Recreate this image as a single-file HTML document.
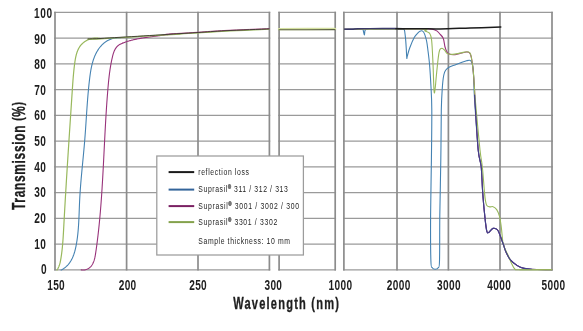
<!DOCTYPE html>
<html><head><meta charset="utf-8"><style>
html,body{margin:0;padding:0;background:#fff;width:583px;height:331px;overflow:hidden}
svg{display:block;will-change:transform}
text{font-family:"Liberation Sans",sans-serif;fill:#1e1e1e} .hv{stroke:#1e1e1e;stroke-width:0.35}
</style></head><body>
<svg width="583" height="331" viewBox="0 0 583 331">
<defs><clipPath id="c1"><rect x="55" y="0" width="214.5" height="331"/></clipPath><clipPath id="c3"><rect x="344" y="0" width="208.5" height="331"/></clipPath></defs>
<g stroke="#9a9a9a" stroke-width="1.3"><line x1="54.15" y1="269.85" x2="270.25" y2="269.85"/><line x1="278.25" y1="269.85" x2="336.05" y2="269.85"/><line x1="343.04999999999995" y1="269.85" x2="552.85" y2="269.85"/><line x1="54.15" y1="244.10" x2="270.25" y2="244.10"/><line x1="278.25" y1="244.10" x2="336.05" y2="244.10"/><line x1="343.04999999999995" y1="244.10" x2="552.85" y2="244.10"/><line x1="54.15" y1="218.35" x2="270.25" y2="218.35"/><line x1="278.25" y1="218.35" x2="336.05" y2="218.35"/><line x1="343.04999999999995" y1="218.35" x2="552.85" y2="218.35"/><line x1="54.15" y1="192.60" x2="270.25" y2="192.60"/><line x1="278.25" y1="192.60" x2="336.05" y2="192.60"/><line x1="343.04999999999995" y1="192.60" x2="552.85" y2="192.60"/><line x1="54.15" y1="166.85" x2="270.25" y2="166.85"/><line x1="278.25" y1="166.85" x2="336.05" y2="166.85"/><line x1="343.04999999999995" y1="166.85" x2="552.85" y2="166.85"/><line x1="54.15" y1="141.10" x2="270.25" y2="141.10"/><line x1="278.25" y1="141.10" x2="336.05" y2="141.10"/><line x1="343.04999999999995" y1="141.10" x2="552.85" y2="141.10"/><line x1="54.15" y1="115.35" x2="270.25" y2="115.35"/><line x1="278.25" y1="115.35" x2="336.05" y2="115.35"/><line x1="343.04999999999995" y1="115.35" x2="552.85" y2="115.35"/><line x1="54.15" y1="89.60" x2="270.25" y2="89.60"/><line x1="278.25" y1="89.60" x2="336.05" y2="89.60"/><line x1="343.04999999999995" y1="89.60" x2="552.85" y2="89.60"/><line x1="54.15" y1="63.85" x2="270.25" y2="63.85"/><line x1="278.25" y1="63.85" x2="336.05" y2="63.85"/><line x1="343.04999999999995" y1="63.85" x2="552.85" y2="63.85"/><line x1="54.15" y1="38.10" x2="270.25" y2="38.10"/><line x1="278.25" y1="38.10" x2="336.05" y2="38.10"/><line x1="343.04999999999995" y1="38.10" x2="552.85" y2="38.10"/><line x1="54.15" y1="12.35" x2="270.25" y2="12.35"/><line x1="278.25" y1="12.35" x2="336.05" y2="12.35"/><line x1="343.04999999999995" y1="12.35" x2="552.85" y2="12.35"/></g><g stroke="#8c8c8c" stroke-width="1.7"><line x1="55.00" y1="11.700000000000022" x2="55.00" y2="270.5"/><line x1="126.60" y1="11.700000000000022" x2="126.60" y2="270.5"/><line x1="198.00" y1="11.700000000000022" x2="198.00" y2="270.5"/><line x1="269.40" y1="11.700000000000022" x2="269.40" y2="270.5"/><line x1="279.10" y1="11.700000000000022" x2="279.10" y2="270.5"/><line x1="335.20" y1="11.700000000000022" x2="335.20" y2="270.5"/><line x1="343.90" y1="11.700000000000022" x2="343.90" y2="270.5"/><line x1="397.00" y1="11.700000000000022" x2="397.00" y2="270.5"/><line x1="448.40" y1="11.700000000000022" x2="448.40" y2="270.5"/><line x1="500.00" y1="11.700000000000022" x2="500.00" y2="270.5"/><line x1="552.00" y1="11.700000000000022" x2="552.00" y2="270.5"/></g><g clip-path="url(#c1)"><path d="M61.10,270.10 L61.73,269.76 L62.33,269.41 L62.93,269.05 L63.50,268.68 L64.06,268.29 L64.60,267.90 L65.12,267.49 L65.63,267.07 L66.13,266.64 L66.60,266.20 L67.07,265.75 L67.51,265.29 L67.95,264.82 L68.37,264.34 L68.77,263.85 L69.16,263.35 L69.54,262.84 L69.91,262.33 L70.26,261.80 L70.60,261.27 L70.93,260.73 L71.25,260.18 L71.55,259.63 L71.85,259.07 L72.13,258.50 L72.41,257.92 L72.67,257.34 L72.92,256.76 L73.17,256.17 L73.40,255.57 L73.63,254.97 L73.84,254.36 L74.05,253.75 L74.25,253.13 L74.44,252.51 L74.63,251.89 L74.80,251.26 L74.97,250.63 L75.14,250.00 L75.30,249.36 L75.45,248.72 L75.59,248.08 L75.73,247.44 L75.87,246.80 L76.00,246.15 L76.13,245.51 L76.25,244.86 L76.37,244.21 L76.48,243.56 L76.59,242.92 L76.70,242.27 L76.81,241.62 L76.91,240.97 L77.01,240.32 L77.10,239.67 L77.19,239.02 L77.28,238.37 L77.37,237.72 L77.45,237.07 L77.53,236.42 L77.61,235.77 L77.68,235.12 L77.76,234.47 L77.83,233.82 L77.89,233.17 L77.96,232.52 L78.02,231.87 L78.08,231.22 L78.14,230.57 L78.20,229.91 L78.25,229.26 L78.30,228.61 L78.35,227.96 L78.40,227.31 L78.45,226.65 L78.49,226.00 L78.54,225.35 L78.58,224.70 L78.62,224.04 L78.66,223.39 L78.70,222.74 L78.73,222.08 L78.77,221.43 L78.80,220.78 L78.83,220.13 L78.87,219.47 L78.90,218.82 L78.93,218.16 L78.96,217.51 L78.98,216.86 L79.01,216.20 L79.04,215.55 L79.07,214.90 L79.09,214.24 L79.12,213.59 L79.14,212.93 L79.17,212.28 L79.19,211.63 L79.22,210.97 L79.24,210.32 L79.26,209.66 L79.29,209.01 L79.31,208.36 L79.34,207.70 L79.36,207.05 L79.39,206.39 L79.41,205.74 L79.44,205.09 L79.47,204.43 L79.49,203.78 L79.52,203.13 L79.55,202.47 L79.58,201.82 L79.61,201.16 L79.64,200.51 L79.67,199.86 L79.71,199.20 L79.74,198.55 L79.78,197.90 L79.81,197.24 L79.85,196.59 L79.89,195.94 L79.93,195.28 L79.97,194.63 L80.01,193.98 L80.05,193.32 L80.09,192.67 L80.13,192.02 L80.18,191.36 L80.22,190.71 L80.27,190.06 L80.32,189.40 L80.36,188.75 L80.41,188.10 L80.46,187.45 L80.51,186.79 L80.56,186.14 L80.61,185.49 L80.66,184.84 L80.71,184.18 L80.77,183.53 L80.82,182.88 L80.87,182.23 L80.93,181.58 L80.98,180.92 L81.04,180.27 L81.10,179.62 L81.15,178.97 L81.21,178.32 L81.27,177.66 L81.32,177.01 L81.38,176.36 L81.44,175.71 L81.50,175.06 L81.56,174.41 L81.62,173.76 L81.68,173.10 L81.74,172.45 L81.80,171.80 L81.86,171.15 L81.92,170.50 L81.98,169.85 L82.05,169.20 L82.11,168.55 L82.17,167.90 L82.23,167.25 L82.29,166.60 L82.36,165.95 L82.42,165.29 L82.48,164.64 L82.54,163.99 L82.61,163.34 L82.67,162.69 L82.73,162.04 L82.80,161.39 L82.86,160.74 L82.92,160.09 L82.98,159.44 L83.05,158.79 L83.11,158.15 L83.17,157.50 L83.23,156.85 L83.30,156.20 L83.36,155.55 L83.42,154.90 L83.48,154.25 L83.54,153.60 L83.60,152.95 L83.66,152.30 L83.72,151.65 L83.79,151.01 L83.85,150.36 L83.90,149.71 L83.96,149.06 L84.02,148.41 L84.08,147.76 L84.14,147.11 L84.20,146.47 L84.26,145.82 L84.31,145.17 L84.37,144.52 L84.42,143.88 L84.48,143.23 L84.54,142.58 L84.59,141.93 L84.64,141.28 L84.70,140.64 L84.75,139.99 L84.80,139.34 L84.85,138.70 L84.90,138.05 L84.95,137.40 L85.00,136.75 L85.05,136.11 L85.10,135.46 L85.15,134.81 L85.20,134.17 L85.25,133.52 L85.29,132.87 L85.34,132.23 L85.39,131.58 L85.43,130.94 L85.48,130.29 L85.52,129.64 L85.57,129.00 L85.61,128.35 L85.66,127.70 L85.70,127.06 L85.74,126.41 L85.79,125.76 L85.83,125.12 L85.87,124.47 L85.92,123.82 L85.96,123.18 L86.00,122.53 L86.05,121.88 L86.09,121.24 L86.13,120.59 L86.17,119.94 L86.22,119.30 L86.26,118.65 L86.30,118.00 L86.34,117.35 L86.39,116.71 L86.43,116.06 L86.47,115.41 L86.52,114.76 L86.56,114.12 L86.60,113.47 L86.65,112.82 L86.69,112.17 L86.73,111.52 L86.78,110.88 L86.82,110.23 L86.87,109.58 L86.91,108.93 L86.96,108.28 L87.00,107.63 L87.05,106.98 L87.09,106.33 L87.14,105.68 L87.19,105.03 L87.23,104.38 L87.28,103.73 L87.33,103.08 L87.38,102.43 L87.43,101.78 L87.48,101.13 L87.53,100.48 L87.58,99.83 L87.63,99.18 L87.68,98.52 L87.73,97.87 L87.79,97.22 L87.84,96.57 L87.90,95.91 L87.95,95.26 L88.01,94.61 L88.06,93.95 L88.12,93.30 L88.18,92.64 L88.24,91.99 L88.30,91.33 L88.36,90.68 L88.42,90.02 L88.48,89.37 L88.55,88.71 L88.61,88.06 L88.67,87.40 L88.74,86.74 L88.81,86.08 L88.88,85.43 L88.94,84.77 L89.01,84.11 L89.08,83.45 L89.16,82.79 L89.23,82.13 L89.30,81.47 L89.38,80.81 L89.46,80.15 L89.53,79.49 L89.61,78.83 L89.69,78.17 L89.77,77.51 L89.86,76.85 L89.94,76.18 L90.03,75.52 L90.12,74.86 L90.21,74.20 L90.31,73.54 L90.41,72.88 L90.51,72.23 L90.62,71.57 L90.73,70.91 L90.84,70.26 L90.95,69.60 L91.07,68.95 L91.20,68.30 L91.33,67.65 L91.46,67.01 L91.60,66.36 L91.75,65.72 L91.90,65.08 L92.05,64.44 L92.21,63.80 L92.38,63.17 L92.55,62.54 L92.73,61.91 L92.91,61.29 L93.10,60.66 L93.30,60.04 L93.51,59.43 L93.72,58.81 L93.94,58.20 L94.17,57.60 L94.40,57.00 L94.64,56.40 L94.89,55.80 L95.15,55.21 L95.42,54.63 L95.70,54.04 L95.98,53.47 L96.27,52.89 L96.58,52.33 L96.89,51.76 L97.21,51.21 L97.54,50.66 L97.88,50.11 L98.22,49.58 L98.58,49.05 L98.95,48.53 L99.32,48.01 L99.71,47.51 L100.10,47.01 L100.51,46.53 L100.92,46.05 L101.34,45.58 L101.77,45.12 L102.22,44.67 L102.67,44.23 L103.13,43.81 L103.60,43.39 L104.08,42.99 L104.58,42.60 L105.08,42.22 L105.59,41.86 L106.11,41.50 L106.64,41.16 L107.19,40.84 L107.74,40.53 L108.30,40.23 L108.88,39.95 L109.46,39.68 L110.06,39.43 L110.66,39.19 L111.28,38.97 L111.91,38.77 L112.55,38.59 L113.19,38.42 L113.85,38.27 L114.52,38.13 L115.21,38.02 L115.90,37.92 L116.60,37.85 L117.32,37.79 L118.04,37.75 L118.78,37.73 L119.53,37.73 L120.28,37.76" stroke="#4482b2" stroke-width="1.1" fill="none" stroke-linejoin="round" stroke-linecap="round"/><path d="M81.19,269.83 L81.97,269.93 L82.72,269.98 L83.45,269.98 L84.15,269.94 L84.83,269.86 L85.49,269.73 L86.12,269.56 L86.74,269.35 L87.32,269.11 L87.89,268.83 L88.43,268.52 L88.95,268.18 L89.45,267.81 L89.92,267.40 L90.38,266.98 L90.80,266.53 L91.21,266.05 L91.60,265.56 L91.96,265.05 L92.30,264.52 L92.61,263.97 L92.91,263.41 L93.19,262.84 L93.44,262.25 L93.68,261.65 L93.90,261.05 L94.11,260.43 L94.30,259.80 L94.48,259.17 L94.64,258.53 L94.79,257.88 L94.94,257.23 L95.07,256.58 L95.19,255.92 L95.31,255.25 L95.42,254.59 L95.53,253.92 L95.63,253.26 L95.73,252.60 L95.83,251.94 L95.92,251.28 L96.02,250.62 L96.11,249.96 L96.21,249.31 L96.30,248.66 L96.39,248.01 L96.48,247.36 L96.57,246.71 L96.66,246.06 L96.74,245.41 L96.83,244.76 L96.92,244.12 L97.00,243.47 L97.08,242.82 L97.17,242.18 L97.25,241.53 L97.33,240.88 L97.41,240.24 L97.49,239.59 L97.57,238.94 L97.65,238.29 L97.73,237.65 L97.81,237.00 L97.88,236.35 L97.96,235.70 L98.04,235.05 L98.11,234.41 L98.19,233.76 L98.26,233.11 L98.33,232.46 L98.40,231.81 L98.48,231.17 L98.55,230.52 L98.62,229.87 L98.69,229.22 L98.76,228.57 L98.83,227.92 L98.89,227.27 L98.96,226.62 L99.03,225.98 L99.10,225.33 L99.16,224.68 L99.23,224.03 L99.29,223.38 L99.35,222.73 L99.42,222.08 L99.48,221.43 L99.54,220.78 L99.61,220.13 L99.67,219.48 L99.73,218.83 L99.79,218.18 L99.85,217.53 L99.91,216.88 L99.97,216.23 L100.02,215.58 L100.08,214.93 L100.14,214.28 L100.19,213.63 L100.25,212.98 L100.31,212.33 L100.36,211.68 L100.42,211.03 L100.47,210.38 L100.52,209.73 L100.58,209.08 L100.63,208.43 L100.68,207.78 L100.73,207.13 L100.79,206.48 L100.84,205.83 L100.89,205.18 L100.94,204.53 L100.99,203.88 L101.04,203.22 L101.09,202.57 L101.14,201.92 L101.18,201.27 L101.23,200.62 L101.28,199.97 L101.33,199.32 L101.37,198.67 L101.42,198.01 L101.46,197.36 L101.51,196.71 L101.56,196.06 L101.60,195.41 L101.64,194.76 L101.69,194.11 L101.73,193.45 L101.78,192.80 L101.82,192.15 L101.86,191.50 L101.90,190.85 L101.95,190.19 L101.99,189.54 L102.03,188.89 L102.07,188.24 L102.11,187.59 L102.15,186.93 L102.19,186.28 L102.23,185.63 L102.27,184.98 L102.31,184.33 L102.35,183.67 L102.39,183.02 L102.43,182.37 L102.47,181.72 L102.51,181.06 L102.55,180.41 L102.58,179.76 L102.62,179.11 L102.66,178.46 L102.70,177.80 L102.73,177.15 L102.77,176.50 L102.81,175.84 L102.84,175.19 L102.88,174.54 L102.91,173.89 L102.95,173.23 L102.99,172.58 L103.02,171.93 L103.06,171.28 L103.09,170.62 L103.13,169.97 L103.16,169.32 L103.20,168.66 L103.23,168.01 L103.27,167.36 L103.30,166.71 L103.33,166.05 L103.37,165.40 L103.40,164.75 L103.44,164.09 L103.47,163.44 L103.50,162.79 L103.54,162.14 L103.57,161.48 L103.60,160.83 L103.64,160.18 L103.67,159.52 L103.70,158.87 L103.74,158.22 L103.77,157.56 L103.80,156.91 L103.83,156.26 L103.87,155.60 L103.90,154.95 L103.93,154.30 L103.97,153.64 L104.00,152.99 L104.03,152.34 L104.06,151.69 L104.10,151.03 L104.13,150.38 L104.16,149.73 L104.19,149.07 L104.23,148.42 L104.26,147.77 L104.29,147.11 L104.32,146.46 L104.36,145.81 L104.39,145.15 L104.42,144.50 L104.46,143.85 L104.49,143.19 L104.52,142.54 L104.56,141.89 L104.59,141.23 L104.62,140.58 L104.65,139.93 L104.69,139.27 L104.72,138.62 L104.75,137.97 L104.79,137.31 L104.82,136.66 L104.86,136.01 L104.89,135.35 L104.92,134.70 L104.96,134.05 L104.99,133.40 L105.03,132.74 L105.06,132.09 L105.10,131.44 L105.13,130.78 L105.17,130.13 L105.20,129.48 L105.24,128.82 L105.27,128.17 L105.31,127.52 L105.34,126.86 L105.38,126.21 L105.42,125.56 L105.45,124.91 L105.49,124.25 L105.52,123.60 L105.56,122.95 L105.60,122.29 L105.64,121.64 L105.67,120.99 L105.71,120.33 L105.75,119.68 L105.79,119.03 L105.83,118.38 L105.87,117.72 L105.90,117.07 L105.94,116.42 L105.98,115.77 L106.02,115.11 L106.06,114.46 L106.10,113.81 L106.14,113.15 L106.19,112.50 L106.23,111.85 L106.27,111.20 L106.31,110.54 L106.35,109.89 L106.39,109.24 L106.44,108.59 L106.48,107.93 L106.52,107.28 L106.57,106.63 L106.61,105.98 L106.66,105.33 L106.70,104.67 L106.75,104.02 L106.79,103.37 L106.84,102.72 L106.88,102.06 L106.93,101.41 L106.98,100.76 L107.03,100.11 L107.07,99.46 L107.12,98.80 L107.17,98.15 L107.22,97.50 L107.27,96.85 L107.32,96.20 L107.37,95.55 L107.42,94.89 L107.47,94.24 L107.52,93.59 L107.57,92.94 L107.63,92.29 L107.68,91.64 L107.73,90.99 L107.79,90.33 L107.84,89.68 L107.89,89.03 L107.95,88.38 L108.01,87.73 L108.06,87.08 L108.12,86.43 L108.18,85.78 L108.24,85.12 L108.29,84.47 L108.36,83.82 L108.42,83.17 L108.48,82.52 L108.54,81.87 L108.61,81.22 L108.67,80.57 L108.74,79.92 L108.81,79.27 L108.88,78.62 L108.95,77.97 L109.02,77.32 L109.10,76.67 L109.17,76.02 L109.25,75.37 L109.33,74.72 L109.41,74.07 L109.49,73.43 L109.58,72.78 L109.67,72.13 L109.76,71.48 L109.85,70.83 L109.94,70.18 L110.03,69.53 L110.13,68.89 L110.23,68.24 L110.34,67.59 L110.44,66.94 L110.55,66.30 L110.66,65.65 L110.77,65.00 L110.89,64.36 L111.00,63.71 L111.12,63.07 L111.25,62.42 L111.37,61.77 L111.50,61.13 L111.64,60.48 L111.77,59.84 L111.91,59.19 L112.05,58.55 L112.20,57.91 L112.35,57.26 L112.50,56.62 L112.66,55.98 L112.82,55.34 L112.99,54.71 L113.17,54.08 L113.36,53.46 L113.56,52.84 L113.78,52.24 L114.00,51.64 L114.24,51.06 L114.49,50.48 L114.76,49.92 L115.05,49.37 L115.36,48.84 L115.68,48.32 L116.02,47.82 L116.39,47.34 L116.78,46.88 L117.19,46.44 L117.63,46.01 L118.09,45.61 L118.58,45.24 L119.09,44.88 L119.63,44.55 L120.19,44.24 L120.76,43.94 L121.35,43.66 L121.95,43.39 L122.56,43.13 L123.18,42.88 L123.80,42.65 L124.43,42.41 L125.05,42.19 L125.68,41.97 L126.31,41.76 L126.94,41.55 L127.57,41.35 L128.21,41.16 L128.84,40.97 L129.48,40.79 L130.11,40.61 L130.75,40.44 L131.39,40.27 L132.03,40.10 L132.67,39.95 L133.32,39.79 L133.96,39.64 L134.60,39.50 L135.25,39.36 L135.90,39.22 L136.54,39.09 L137.19,38.96 L137.84,38.83 L138.49,38.71 L139.14,38.59 L139.79,38.47 L140.44,38.36 L141.09,38.25 L141.74,38.14 L142.39,38.03 L143.04,37.93 L143.69,37.83 L144.34,37.73 L144.99,37.63 L145.65,37.54 L146.30,37.45 L146.95,37.35 L147.60,37.26 L148.25,37.17 L148.90,37.08 L149.55,37.00 L150.20,36.91 L150.85,36.82 L151.50,36.74 L152.15,36.65 L152.80,36.56 L153.45,36.48 L154.09,36.39 L154.74,36.31 L155.39,36.22 L156.03,36.13 L156.67,36.04 L157.32,35.96 L157.96,35.87 L158.60,35.78 L159.24,35.69 L159.88,35.60 L160.53,35.51 L161.17,35.42 L161.81,35.33 L162.45,35.25 L163.09,35.16 L163.73,35.08 L164.37,34.99 L165.01,34.91 L165.65,34.82 L166.29,34.74 L166.94,34.66 L167.58,34.59 L168.22,34.51 L168.87,34.44 L169.51,34.36 L170.16,34.29 L170.80,34.23 L171.45,34.16 L172.10,34.10 L172.75,34.04 L173.40,33.98 L174.06,33.93 L174.71,33.88 L175.37,33.83 L176.03,33.78 L176.69,33.74 L177.35,33.71 L178.01,33.67 L178.67,33.64 L179.34,33.62 L180.01,33.59" stroke="#98327a" stroke-width="1.1" fill="none" stroke-linejoin="round" stroke-linecap="round"/><path d="M56.92,270.06 L57.28,269.53 L57.62,268.99 L57.93,268.44 L58.23,267.88 L58.50,267.31 L58.76,266.73 L59.00,266.15 L59.22,265.55 L59.43,264.95 L59.62,264.35 L59.80,263.74 L59.96,263.12 L60.12,262.50 L60.26,261.87 L60.40,261.24 L60.53,260.61 L60.65,259.97 L60.76,259.34 L60.87,258.70 L60.98,258.06 L61.08,257.42 L61.18,256.78 L61.27,256.13 L61.37,255.49 L61.46,254.85 L61.55,254.21 L61.63,253.56 L61.72,252.92 L61.80,252.27 L61.88,251.63 L61.96,250.98 L62.03,250.34 L62.10,249.69 L62.17,249.05 L62.24,248.40 L62.31,247.75 L62.37,247.11 L62.43,246.46 L62.50,245.81 L62.55,245.16 L62.61,244.51 L62.67,243.87 L62.72,243.22 L62.77,242.57 L62.83,241.92 L62.88,241.27 L62.92,240.62 L62.97,239.97 L63.02,239.32 L63.06,238.67 L63.11,238.02 L63.15,237.37 L63.19,236.72 L63.23,236.06 L63.27,235.41 L63.31,234.76 L63.35,234.11 L63.39,233.46 L63.43,232.81 L63.46,232.15 L63.50,231.50 L63.54,230.85 L63.57,230.20 L63.61,229.55 L63.64,228.90 L63.68,228.24 L63.71,227.59 L63.75,226.94 L63.78,226.29 L63.82,225.63 L63.85,224.98 L63.89,224.33 L63.92,223.68 L63.96,223.03 L63.99,222.37 L64.03,221.72 L64.06,221.07 L64.10,220.42 L64.13,219.77 L64.17,219.11 L64.21,218.46 L64.24,217.81 L64.28,217.16 L64.31,216.51 L64.35,215.85 L64.39,215.20 L64.42,214.55 L64.46,213.90 L64.50,213.25 L64.53,212.60 L64.57,211.94 L64.61,211.29 L64.64,210.64 L64.68,209.99 L64.72,209.34 L64.75,208.69 L64.79,208.03 L64.83,207.38 L64.87,206.73 L64.90,206.08 L64.94,205.43 L64.98,204.78 L65.02,204.12 L65.05,203.47 L65.09,202.82 L65.13,202.17 L65.17,201.52 L65.20,200.87 L65.24,200.22 L65.28,199.56 L65.32,198.91 L65.36,198.26 L65.40,197.61 L65.43,196.96 L65.47,196.31 L65.51,195.66 L65.55,195.00 L65.59,194.35 L65.63,193.70 L65.67,193.05 L65.70,192.40 L65.74,191.75 L65.78,191.10 L65.82,190.45 L65.86,189.79 L65.90,189.14 L65.94,188.49 L65.98,187.84 L66.02,187.19 L66.06,186.54 L66.10,185.89 L66.14,185.24 L66.18,184.59 L66.21,183.93 L66.25,183.28 L66.29,182.63 L66.33,181.98 L66.37,181.33 L66.41,180.68 L66.45,180.03 L66.49,179.38 L66.53,178.73 L66.57,178.08 L66.61,177.43 L66.65,176.77 L66.69,176.12 L66.74,175.47 L66.78,174.82 L66.82,174.17 L66.86,173.52 L66.90,172.87 L66.94,172.22 L66.98,171.57 L67.02,170.92 L67.06,170.27 L67.10,169.62 L67.14,168.97 L67.18,168.32 L67.22,167.67 L67.26,167.01 L67.31,166.36 L67.35,165.71 L67.39,165.06 L67.43,164.41 L67.47,163.76 L67.51,163.11 L67.55,162.46 L67.59,161.81 L67.64,161.16 L67.68,160.51 L67.72,159.86 L67.76,159.21 L67.80,158.56 L67.84,157.91 L67.88,157.26 L67.93,156.61 L67.97,155.96 L68.01,155.31 L68.05,154.66 L68.09,154.01 L68.14,153.36 L68.18,152.71 L68.22,152.06 L68.26,151.41 L68.30,150.76 L68.34,150.11 L68.39,149.46 L68.43,148.81 L68.47,148.16 L68.51,147.51 L68.56,146.86 L68.60,146.21 L68.64,145.56 L68.68,144.91 L68.72,144.26 L68.77,143.61 L68.81,142.96 L68.85,142.31 L68.89,141.66 L68.94,141.01 L68.98,140.36 L69.02,139.71 L69.06,139.06 L69.11,138.41 L69.15,137.76 L69.19,137.11 L69.23,136.46 L69.28,135.81 L69.32,135.16 L69.36,134.51 L69.41,133.86 L69.45,133.21 L69.49,132.56 L69.53,131.91 L69.58,131.26 L69.62,130.61 L69.66,129.97 L69.70,129.32 L69.75,128.67 L69.79,128.02 L69.83,127.37 L69.88,126.72 L69.92,126.07 L69.96,125.42 L70.00,124.77 L70.05,124.12 L70.09,123.47 L70.13,122.82 L70.18,122.17 L70.22,121.52 L70.26,120.87 L70.31,120.23 L70.35,119.58 L70.39,118.93 L70.44,118.28 L70.48,117.63 L70.52,116.98 L70.56,116.33 L70.61,115.68 L70.65,115.03 L70.69,114.38 L70.74,113.74 L70.78,113.09 L70.82,112.44 L70.87,111.79 L70.91,111.14 L70.95,110.49 L71.00,109.84 L71.04,109.19 L71.08,108.54 L71.13,107.90 L71.17,107.25 L71.21,106.60 L71.25,105.95 L71.30,105.30 L71.34,104.65 L71.38,104.00 L71.43,103.35 L71.47,102.71 L71.51,102.06 L71.56,101.41 L71.60,100.76 L71.64,100.11 L71.69,99.46 L71.73,98.81 L71.77,98.17 L71.82,97.52 L71.86,96.87 L71.90,96.22 L71.94,95.57 L71.99,94.92 L72.03,94.28 L72.07,93.63 L72.12,92.98 L72.16,92.33 L72.20,91.68 L72.25,91.03 L72.29,90.39 L72.33,89.74 L72.38,89.09 L72.42,88.44 L72.46,87.79 L72.50,87.15 L72.55,86.50 L72.59,85.85 L72.64,85.20 L72.68,84.55 L72.73,83.90 L72.77,83.25 L72.82,82.60 L72.87,81.96 L72.91,81.31 L72.96,80.66 L73.01,80.01 L73.06,79.36 L73.11,78.71 L73.16,78.06 L73.22,77.41 L73.27,76.75 L73.32,76.10 L73.38,75.45 L73.44,74.80 L73.50,74.15 L73.56,73.49 L73.62,72.84 L73.68,72.19 L73.75,71.53 L73.81,70.88 L73.88,70.22 L73.95,69.57 L74.02,68.91 L74.09,68.25 L74.17,67.60 L74.24,66.94 L74.32,66.28 L74.40,65.62 L74.49,64.96 L74.57,64.30 L74.66,63.64 L74.75,62.98 L74.84,62.32 L74.94,61.66 L75.03,61.00 L75.14,60.34 L75.25,59.68 L75.36,59.02 L75.48,58.37 L75.61,57.72 L75.74,57.07 L75.88,56.42 L76.03,55.78 L76.19,55.15 L76.35,54.52 L76.53,53.89 L76.72,53.27 L76.91,52.66 L77.12,52.05 L77.34,51.45 L77.57,50.86 L77.82,50.27 L78.07,49.70 L78.34,49.13 L78.63,48.57 L78.93,48.02 L79.25,47.48 L79.58,46.95 L79.93,46.44 L80.29,45.93 L80.67,45.43 L81.07,44.95 L81.49,44.48 L81.93,44.03 L82.38,43.58 L82.84,43.15 L83.33,42.74 L83.82,42.34 L84.33,41.95 L84.86,41.58 L85.40,41.23 L85.95,40.89 L86.51,40.57 L87.08,40.27 L87.67,39.98 L88.26,39.72 L88.87,39.47 L89.48,39.24 L90.10,39.03 L90.73,38.84 L91.37,38.67 L92.02,38.53 L92.67,38.40 L93.33,38.30 L93.99,38.22 L94.66,38.16 L95.33,38.12 L96.01,38.11 L96.69,38.12 L97.37,38.16 L98.05,38.22 L98.74,38.31 L99.42,38.42 L100.11,38.56" stroke="#98b85c" stroke-width="1.2" fill="none" stroke-linejoin="round" stroke-linecap="round"/><path d="M88.0,39.2 C90.0,39.2 94.7,39.1 100.0,38.9 C105.3,38.6 112.7,38.1 120.0,37.6 C127.3,37.2 136.0,36.7 143.7,36.2 C151.4,35.8 159.9,35.2 166.0,34.9 C172.1,34.5 174.6,34.3 180.0,34.0 C185.4,33.6 190.5,33.3 198.2,32.9 C205.9,32.4 214.1,31.7 226.0,31.1 C237.9,30.4 262.2,29.6 269.5,29.2" stroke="#98b85c" stroke-width="1.3" fill="none" stroke-linejoin="round" stroke-linecap="round"/><path d="M166.0,34.2 C168.3,34.1 174.6,33.6 180.0,33.3 C185.4,33.0 190.5,32.7 198.2,32.2 C205.9,31.7 214.1,31.0 226.0,30.4 C237.9,29.8 262.2,28.9 269.5,28.6" stroke="#b0508a" stroke-width="1.0" fill="none" stroke-linejoin="round" stroke-linecap="round"/><path d="M88.0,38.9 C90.0,38.8 94.7,38.8 100.0,38.5 C105.3,38.2 112.7,37.7 120.0,37.3 C127.3,36.9 136.0,36.4 143.7,35.9 C151.4,35.4 159.9,34.9 166.0,34.5 C172.1,34.1 174.6,33.9 180.0,33.6 C185.4,33.3 190.5,33.0 198.2,32.5 C205.9,32.0 214.1,31.3 226.0,30.7 C237.9,30.1 262.2,29.2 269.5,28.9" stroke="#3a3530" stroke-width="0.9" fill="none" stroke-linejoin="round" stroke-linecap="round"/></g><path d="M279.0,29.1 C288.3,29.1 325.7,28.9 335.0,28.9" stroke="#d4e0a0" stroke-width="2.4" fill="none" stroke-linejoin="round" stroke-linecap="round"/><path d="M279.0,29.8 C288.3,29.8 325.7,29.6 335.0,29.6" stroke="#5c6244" stroke-width="1.1" fill="none" stroke-linejoin="round" stroke-linecap="round"/><g clip-path="url(#c3)"><path d="M344.0,29.3 C346.8,29.2 357.5,28.9 360.6,28.9 C363.8,28.9 362.3,28.3 362.9,29.3 C363.5,30.3 363.9,35.0 364.4,35.0 C364.9,35.0 364.0,30.3 365.9,29.3 C367.8,28.3 371.0,29.2 376.0,29.2 C381.0,29.1 391.7,29.0 396.0,29.0 C400.3,29.0 400.6,28.9 402.0,29.0 C403.4,29.1 403.6,27.9 404.2,29.3 C404.8,30.7 405.0,33.8 405.4,37.1 C405.8,40.4 406.1,45.7 406.3,49.2 C406.5,52.7 406.6,56.8 406.8,58.0 C406.9,59.2 406.8,57.9 407.3,56.2 C407.8,54.5 408.5,51.2 409.7,48.0 C410.9,44.8 413.1,39.6 414.5,37.1 C415.9,34.6 417.1,33.8 418.0,32.8 C418.9,31.8 419.4,31.5 420.0,31.2 C420.6,30.9 421.2,30.7 421.8,30.8 C422.4,30.9 423.0,31.4 423.5,32.0 C424.0,32.6 424.3,33.2 424.8,34.7 C425.3,36.2 426.1,38.6 426.6,41.0 C427.1,43.4 427.3,45.2 427.8,49.2 C428.3,53.2 429.1,59.0 429.6,65.0 C430.1,71.0 430.5,77.8 430.9,85.3 C431.3,92.8 431.7,97.5 431.8,110.0 C431.9,122.5 431.6,142.5 431.4,160.0 C431.2,177.5 430.7,198.2 430.6,215.0 C430.5,231.8 430.6,252.2 430.9,261.0 C431.2,269.8 431.6,266.4 432.3,267.8 C433.0,269.2 434.2,269.3 435.2,269.3 C436.2,269.3 437.5,269.2 438.2,267.8 C438.9,266.4 439.2,269.8 439.5,261.0 C439.8,252.2 439.6,231.8 439.8,215.0 C440.0,198.2 440.6,177.5 440.8,160.0 C441.1,142.5 441.1,122.0 441.3,110.0 C441.6,98.0 441.9,93.8 442.3,88.0 C442.7,82.2 443.2,78.0 443.8,75.0 C444.4,72.0 444.7,71.5 445.6,70.2 C446.5,68.9 447.2,68.2 449.0,67.2 C450.8,66.2 453.3,65.6 456.2,64.5 C459.1,63.4 464.4,61.5 466.6,60.8 C468.8,60.1 468.7,60.1 469.5,60.2 C470.3,60.3 470.8,60.5 471.3,61.5 C471.9,62.5 472.4,63.5 472.8,66.0 C473.2,68.5 473.3,70.5 473.6,76.2 C473.9,81.9 473.8,87.7 474.6,100.0 C475.4,112.3 477.1,138.9 478.2,150.0 C479.3,161.1 480.4,159.6 481.2,166.7 C481.9,173.8 482.1,184.0 482.7,192.6 C483.3,201.2 484.3,211.7 485.0,218.1 C485.7,224.5 486.2,228.8 486.8,231.2 C487.4,233.6 487.8,232.9 488.8,232.4 C489.9,231.9 491.6,228.8 493.1,228.4 C494.6,228.0 496.4,228.7 497.6,230.0 C498.8,231.3 499.4,233.8 500.4,236.2 C501.4,238.6 502.4,241.8 503.4,244.5 C504.3,247.2 504.9,249.7 506.1,252.3 C507.3,254.9 508.7,257.9 510.6,260.1 C512.5,262.3 515.1,264.2 517.3,265.6 C519.5,267.0 521.6,267.8 524.0,268.4 C526.4,269.0 527.1,269.1 531.8,269.3 C536.5,269.5 548.6,269.6 552.0,269.7" stroke="#4482b2" stroke-width="1.1" fill="none" stroke-linejoin="round" stroke-linecap="round"/><path d="M344.0,29.3 C356.7,29.2 404.9,28.7 420.0,28.8 C435.1,28.9 431.5,29.1 434.9,30.0 C438.3,30.9 438.9,33.1 440.3,34.5 C441.7,35.9 442.5,36.5 443.3,38.5 C444.1,40.5 444.4,44.4 444.9,46.5 C445.4,48.6 445.9,49.9 446.5,51.0 C447.1,52.1 447.2,52.8 448.3,53.4 C449.4,54.0 451.4,54.8 453.3,54.8 C455.2,54.8 457.8,53.9 460.0,53.4 C462.2,52.9 465.0,52.1 466.6,52.0 C468.2,51.9 468.8,51.9 469.6,52.8 C470.4,53.7 470.8,55.0 471.4,57.5 C471.9,60.0 472.4,63.4 472.9,68.0 C473.4,72.6 473.9,80.0 474.3,85.3 C474.7,90.6 474.4,89.2 475.0,100.0 C475.6,110.8 477.2,138.9 478.2,150.0 C479.2,161.1 480.4,159.6 481.2,166.7 C481.9,173.8 482.1,184.0 482.7,192.6 C483.3,201.2 484.3,211.7 485.0,218.1 C485.7,224.5 486.2,228.8 486.8,231.2 C487.4,233.6 487.8,232.9 488.8,232.4 C489.9,231.9 491.6,228.8 493.1,228.4 C494.6,228.0 496.4,228.7 497.6,230.0 C498.8,231.3 499.4,233.8 500.4,236.2 C501.4,238.6 502.4,241.8 503.4,244.5 C504.3,247.2 504.9,249.7 506.1,252.3 C507.3,254.9 508.7,257.9 510.6,260.1 C512.5,262.3 515.1,264.2 517.3,265.6 C519.5,267.0 521.6,267.8 524.0,268.4 C526.4,269.0 527.1,269.1 531.8,269.3 C536.5,269.5 548.6,269.6 552.0,269.7" stroke="#98327a" stroke-width="1.1" fill="none" stroke-linejoin="round" stroke-linecap="round"/><path d="M344.0,29.3 C356.7,29.2 406.5,28.7 420.0,29.0 C433.5,29.3 423.3,30.2 424.9,30.9 C426.5,31.6 428.4,31.7 429.5,33.2 C430.6,34.7 431.0,34.9 431.6,40.0 C432.2,45.1 432.6,55.0 433.0,63.6 C433.4,72.2 433.7,87.4 434.1,91.5 C434.5,95.6 434.8,90.5 435.2,88.0 C435.6,85.5 435.7,82.1 436.3,76.2 C436.9,70.3 438.1,57.3 439.0,52.7 C439.9,48.1 440.5,48.9 441.4,48.4 C442.3,47.9 443.5,49.2 444.5,50.0 C445.5,50.8 445.8,52.7 447.2,53.4 C448.6,54.1 450.5,54.4 452.6,54.4 C454.7,54.4 457.7,53.5 460.0,53.1 C462.3,52.7 465.0,51.8 466.6,51.7 C468.2,51.6 468.8,51.8 469.6,52.6 C470.4,53.4 470.6,53.2 471.2,56.5 C471.8,59.8 472.7,65.3 473.4,72.6 C474.1,79.8 474.2,87.1 475.3,100.0 C476.4,112.9 478.8,138.9 480.0,150.0 C481.2,161.1 481.6,159.6 482.3,166.7 C483.1,173.8 484.0,186.9 484.5,192.6 C485.0,198.3 485.1,198.8 485.5,201.0 C485.9,203.2 486.1,204.5 486.8,205.5 C487.5,206.5 488.8,206.7 489.9,206.9 C490.9,207.1 492.0,206.2 493.1,206.7 C494.2,207.1 495.6,208.0 496.7,209.6 C497.8,211.2 498.7,213.4 499.5,216.3 C500.3,219.2 500.7,222.7 501.3,227.2 C501.9,231.7 502.3,239.5 503.1,243.5 C503.9,247.5 505.1,248.9 506.0,251.0 C506.9,253.1 507.6,254.1 508.5,256.2 C509.4,258.2 510.4,261.1 511.5,263.3 C512.6,265.5 513.6,268.1 515.0,269.2 C516.4,270.3 513.8,269.6 520.0,269.7 C526.2,269.8 546.7,269.7 552.0,269.7" stroke="#98b85c" stroke-width="1.1" fill="none" stroke-linejoin="round" stroke-linecap="round"/><path d="M474.6,95.0 C474.7,96.7 474.6,95.8 475.2,105.0 C475.8,114.2 477.2,139.7 478.2,150.0 C479.2,160.3 480.4,159.6 481.2,166.7 C481.9,173.8 482.1,184.0 482.7,192.6 C483.3,201.2 484.3,211.7 485.0,218.1 C485.7,224.5 486.2,228.8 486.8,231.2 C487.4,233.6 487.8,232.9 488.8,232.4 C489.9,231.9 491.6,228.8 493.1,228.4 C494.6,228.0 496.4,228.7 497.6,230.0 C498.8,231.3 499.4,233.8 500.4,236.2 C501.4,238.6 502.4,241.8 503.4,244.5 C504.3,247.2 504.9,249.7 506.1,252.3 C507.3,254.9 508.7,257.9 510.6,260.1 C512.5,262.3 515.1,264.2 517.3,265.6 C519.5,267.0 521.6,267.8 524.0,268.4 C526.4,269.0 530.5,269.1 531.8,269.3" stroke="#40408a" stroke-width="1.1" fill="none" stroke-linejoin="round" stroke-linecap="round"/><path d="M520.0,269.7 C525.3,269.7 546.7,269.7 552.0,269.7" stroke="#98b85c" stroke-width="1.1" fill="none" stroke-linejoin="round" stroke-linecap="round"/><path d="M344.0,29.1 C345.3,29.1 349.7,29.4 352.0,29.3 C354.3,29.2 355.0,28.8 358.0,28.7 C361.0,28.6 363.7,28.6 370.0,28.6 C376.3,28.6 390.3,28.5 396.0,28.5 C401.7,28.5 402.7,28.7 404.0,28.7" stroke="#3a3868" stroke-width="1.4" fill="none" stroke-linejoin="round" stroke-linecap="round"/><path d="M396.0,28.7 C400.0,28.7 412.7,28.8 420.0,28.8 C427.3,28.8 431.7,29.0 440.0,28.9 C448.3,28.8 459.9,28.3 470.0,28.0 C480.1,27.7 495.7,27.2 500.8,27.0" stroke="#1c1c1c" stroke-width="1.5" fill="none" stroke-linejoin="round" stroke-linecap="round"/></g><rect x="156.8" y="156.0" width="146.59999999999997" height="99.0" fill="#fff" stroke="#9c9c9c" stroke-width="1.25"/><line x1="168.6" y1="172.1" x2="194.2" y2="172.1" stroke="#1a1a1a" stroke-width="2"/><line x1="168.6" y1="189.6" x2="194.2" y2="189.6" stroke="#33649a" stroke-width="2"/><line x1="168.6" y1="206.1" x2="194.2" y2="206.1" stroke="#7a2062" stroke-width="2"/><line x1="168.6" y1="222.1" x2="194.2" y2="222.1" stroke="#84a24c" stroke-width="2"/>
<g><text transform="translate(41.00,274.15) scale(0.66,1)" x="0" y="0" font-size="15.3" font-weight="bold" textLength="7.58" lengthAdjust="spacing" >0</text><text transform="translate(34.20,248.50) scale(0.66,1)" x="0" y="0" font-size="15.3" font-weight="bold" textLength="17.58" lengthAdjust="spacing" >10</text><text transform="translate(34.20,222.85) scale(0.66,1)" x="0" y="0" font-size="15.3" font-weight="bold" textLength="17.58" lengthAdjust="spacing" >20</text><text transform="translate(34.20,197.40) scale(0.66,1)" x="0" y="0" font-size="15.3" font-weight="bold" textLength="17.58" lengthAdjust="spacing" >30</text><text transform="translate(34.20,171.75) scale(0.66,1)" x="0" y="0" font-size="15.3" font-weight="bold" textLength="17.58" lengthAdjust="spacing" >40</text><text transform="translate(34.20,146.10) scale(0.66,1)" x="0" y="0" font-size="15.3" font-weight="bold" textLength="17.58" lengthAdjust="spacing" >50</text><text transform="translate(34.20,120.45) scale(0.66,1)" x="0" y="0" font-size="15.3" font-weight="bold" textLength="17.58" lengthAdjust="spacing" >60</text><text transform="translate(34.20,94.80) scale(0.66,1)" x="0" y="0" font-size="15.3" font-weight="bold" textLength="17.58" lengthAdjust="spacing" >70</text><text transform="translate(34.20,69.15) scale(0.66,1)" x="0" y="0" font-size="15.3" font-weight="bold" textLength="17.58" lengthAdjust="spacing" >80</text><text transform="translate(34.20,43.50) scale(0.66,1)" x="0" y="0" font-size="15.3" font-weight="bold" textLength="17.58" lengthAdjust="spacing" >90</text><text transform="translate(34.00,17.85) scale(0.66,1)" x="0" y="0" font-size="15.3" font-weight="bold" textLength="27.58" lengthAdjust="spacing" >100</text><text transform="translate(47.30,290.20) scale(0.66,1)" x="0" y="0" font-size="15.3" font-weight="bold" textLength="26.36" lengthAdjust="spacing" >150</text><text transform="translate(118.80,290.20) scale(0.66,1)" x="0" y="0" font-size="15.3" font-weight="bold" textLength="26.36" lengthAdjust="spacing" >200</text><text transform="translate(189.30,290.20) scale(0.66,1)" x="0" y="0" font-size="15.3" font-weight="bold" textLength="26.36" lengthAdjust="spacing" >250</text><text transform="translate(264.50,290.20) scale(0.66,1)" x="0" y="0" font-size="15.3" font-weight="bold" textLength="26.36" lengthAdjust="spacing" >300</text><text transform="translate(328.40,290.20) scale(0.66,1)" x="0" y="0" font-size="15.3" font-weight="bold" textLength="35.76" lengthAdjust="spacing" >1000</text><text transform="translate(386.70,290.20) scale(0.66,1)" x="0" y="0" font-size="15.3" font-weight="bold" textLength="35.76" lengthAdjust="spacing" >2000</text><text transform="translate(437.00,290.20) scale(0.66,1)" x="0" y="0" font-size="15.3" font-weight="bold" textLength="35.76" lengthAdjust="spacing" >3000</text><text transform="translate(487.20,290.20) scale(0.66,1)" x="0" y="0" font-size="15.3" font-weight="bold" textLength="35.76" lengthAdjust="spacing" >4000</text><text transform="translate(541.50,290.20) scale(0.66,1)" x="0" y="0" font-size="15.3" font-weight="bold" textLength="35.76" lengthAdjust="spacing" >5000</text><text transform="translate(233.20,308.70) scale(0.68,1)" x="0" y="0" font-size="16.3" font-weight="bold" textLength="155.59" lengthAdjust="spacing" class="hv">Wavelength (nm)</text><g transform="translate(24.6,210) rotate(-90)"><text transform="translate(0.00,0.00) scale(0.68,1)" x="0" y="0" font-size="17.5" font-weight="bold" textLength="158.82" lengthAdjust="spacing" class="hv">Transmission <tspan font-size="15" dy="-1.6">(</tspan><tspan dy="1.6">%</tspan><tspan font-size="15" dy="-1.6">)</tspan></text></g><text transform="translate(198.30,175.00) scale(0.7,1)" x="0" y="0" font-size="9.8" font-weight="normal" fill="#6c6c6c" textLength="72.29" lengthAdjust="spacing" >reflection loss</text><text transform="translate(198.30,191.70) scale(0.7,1)" x="0" y="0" font-size="9.8" font-weight="normal" fill="#6c6c6c" textLength="127.86" lengthAdjust="spacing" >Suprasil<tspan font-size="5.8" font-weight="bold" dy="-3.0" stroke="#777" stroke-width="0.8">&#174;</tspan><tspan dy="3.0"> 311 / 312 / 313</tspan></text><text transform="translate(198.30,208.60) scale(0.7,1)" x="0" y="0" font-size="9.8" font-weight="normal" fill="#6c6c6c" textLength="144.00" lengthAdjust="spacing" >Suprasil<tspan font-size="5.8" font-weight="bold" dy="-3.0" stroke="#777" stroke-width="0.8">&#174;</tspan><tspan dy="3.0"> 3001 / 3002 / 300</tspan></text><text transform="translate(198.30,225.30) scale(0.7,1)" x="0" y="0" font-size="9.8" font-weight="normal" fill="#6c6c6c" textLength="112.71" lengthAdjust="spacing" >Suprasil<tspan font-size="5.8" font-weight="bold" dy="-3.0" stroke="#777" stroke-width="0.8">&#174;</tspan><tspan dy="3.0"> 3301 / 3302</tspan></text><text transform="translate(198.30,243.90) scale(0.7,1)" x="0" y="0" font-size="9.8" font-weight="normal" fill="#6c6c6c" textLength="130.86" lengthAdjust="spacing" >Sample thickness: 10 mm</text></g>
</svg>
</body></html>
